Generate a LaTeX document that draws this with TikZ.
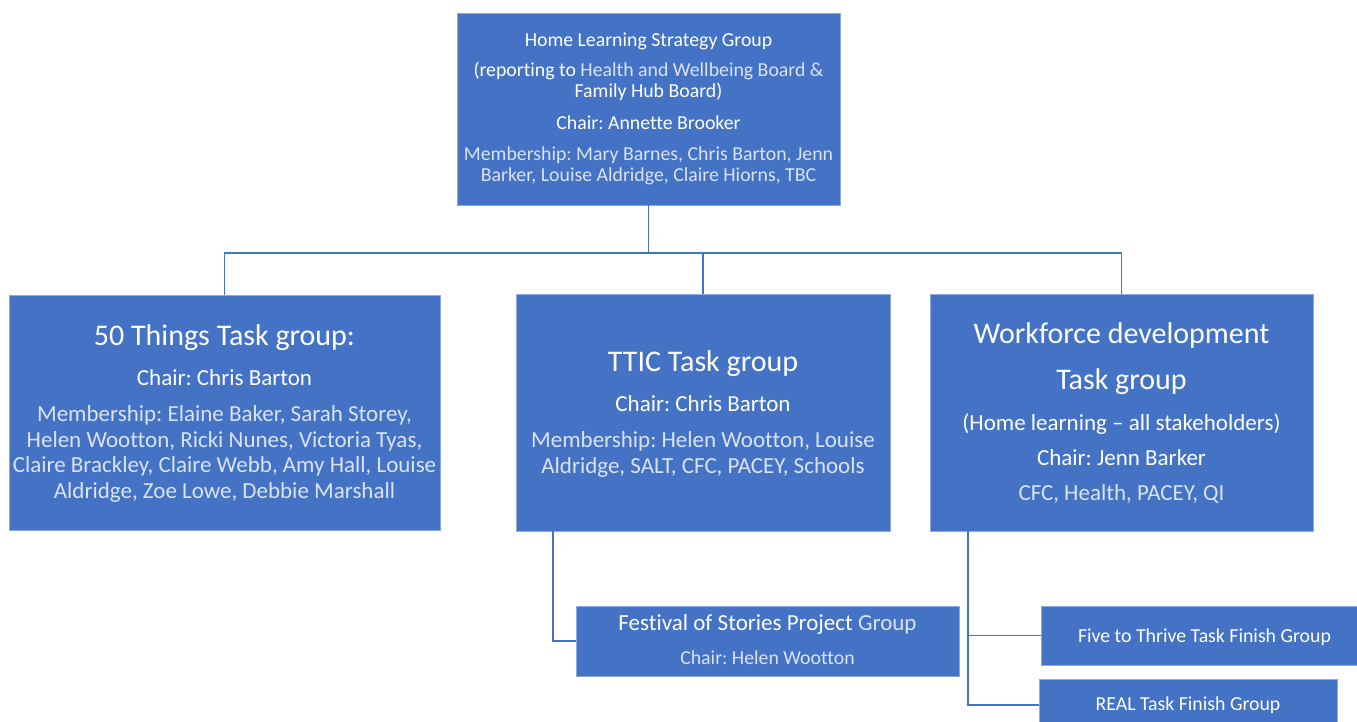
\documentclass[tikz,border=0pt]{standalone}
\usepackage{fontspec}
\setmainfont{Carlito}[Ligatures=NoCommon]
\usepackage{xcolor}
\definecolor{boxblue}{HTML}{4472C4}
\definecolor{boxedge}{HTML}{8EA9DB}
\definecolor{pale}{HTML}{DAE3F3}
\frenchspacing
\tikzset{
	groupbox/.style={fill=boxblue, draw=boxedge, line width=0.6pt, inner sep=0pt},
	link/.style={draw=boxblue, line width=1.5pt},
	txt/.style={anchor=base, inner sep=0pt, text=white, font=\fontsize{19.8}{24}\selectfont},
	paletxt/.style={txt, text=pale},
	bigtxt/.style={txt, font=\fontsize{30}{36}\selectfont},
	midtxt/.style={txt, font=\fontsize{23}{28}\selectfont},
	midpale/.style={midtxt, text=pale}
}

\begin{document}
\begin{tikzpicture}[x=1pt, y=-1pt]
		\clip (0,0) rectangle (1357,722);
		% boxes
		\node[groupbox, minimum width=383pt, minimum height=192pt] (strategy) at (648.5,109) {};
		\node[groupbox, minimum width=431pt, minimum height=235pt] (fifty) at (224.5,412.5) {};
		\node[groupbox, minimum width=374pt, minimum height=237pt] (ttic) at (703,412.5) {};
		\node[groupbox, minimum width=383pt, minimum height=237pt] (workforce) at (1121.5,412.5) {};
		\node[groupbox, minimum width=383pt, minimum height=70pt] (festival) at (767.5,641) {};
		\node[groupbox, minimum width=327pt, minimum height=59pt] (five) at (1204.5,635.5) {};
		\node[groupbox, minimum width=298pt, minimum height=52pt] (real) at (1188,705) {};

		% connectors
		\coordinate (junction) at (648.5,253);
		\coordinate (tticdrop) at (553,531);
		\coordinate (wfdrop) at (968,531);
		\draw[link] (strategy.south) -- (junction);
		\draw[link] (junction) -| (fifty.north);
		\draw[link] (junction) -| (ttic.north);
		\draw[link] (junction) -| (workforce.north);
		\draw[link] (tticdrop) |- (festival.west);
		\draw[link] (wfdrop) |- (five.west);
		\draw[link] (wfdrop) |- (real.west);

		% Home Learning Strategy Group
		\node[txt] (strat1) at (648.5,46.7) {Home Learning Strategy Group};
		\node[txt] (strat2) at (648.5,76.5) {(reporting to \textcolor{pale}{Health and Wellbeing Board \&}};
		\node[txt] (strat3) at (648.5,98) {Family Hub Board)};
		\node[txt] (strat4) at (648.5,130) {Chair: Annette Brooker};
		\node[paletxt] (strat5) at (648.5,160.7) {Membership: Mary Barnes, Chris Barton, Jenn};
		\node[paletxt] (strat6) at (648.5,181.7) {Barker, Louise Aldridge, Claire Hiorns, TBC};

		% 50 Things
		\node[bigtxt] (fifty1) at (224.5,345) {50 Things Task group:};
		\node[midtxt] (fifty2) at (224.5,385) {Chair: Chris Barton};
		\node[midpale] (fifty3) at (224.5,421.7) {Membership: Elaine Baker, Sarah Storey,};
		\node[midpale] (fifty4) at (224.5,447) {Helen Wootton, Ricki Nunes, Victoria Tyas,};
		\node[midpale] (fifty5) at (224.5,472.7) {Claire Brackley, Claire Webb, Amy Hall, Louise};
		\node[midpale] (fifty6) at (224.5,498) {Aldridge, Zoe Lowe, Debbie Marshall};

		% TTIC
		\node[bigtxt] (ttic1) at (703,371.7) {TTIC Task group};
		\node[midtxt] (ttic2) at (703,411.7) {Chair: Chris Barton};
		\node[midpale] (ttic3) at (703,447.7) {Membership: Helen Wootton, Louise};
		\node[midpale] (ttic4) at (703,473.3) {Aldridge, SALT, CFC, PACEY, Schools};

		% Workforce development
		\node[bigtxt] (wf1) at (1121.5,343.3) {Workforce development};
		\node[bigtxt] (wf2) at (1121.5,389.3) {Task group};
		\node[midtxt] (wf3) at (1121.5,430) {(Home learning -- all stakeholders)};
		\node[midtxt] (wf4) at (1121.5,465.7) {Chair: Jenn Barker};
		\node[midpale] (wf5) at (1121.5,500.7) {CFC, Health, PACEY, QI};

		% finish groups
		\node[midtxt] (fest1) at (767.5,630.7) {Festival of Stories Project \textcolor{pale}{Group}};
		\node[paletxt] (fest2) at (767.5,664) {Chair: Helen Wootton};
		\node[txt] (five1) at (1204.5,642.3) {Five to Thrive Task Finish Group};
		\node[txt] (real1) at (1188,710) {REAL Task Finish Group};
\end{tikzpicture}
\end{document}
